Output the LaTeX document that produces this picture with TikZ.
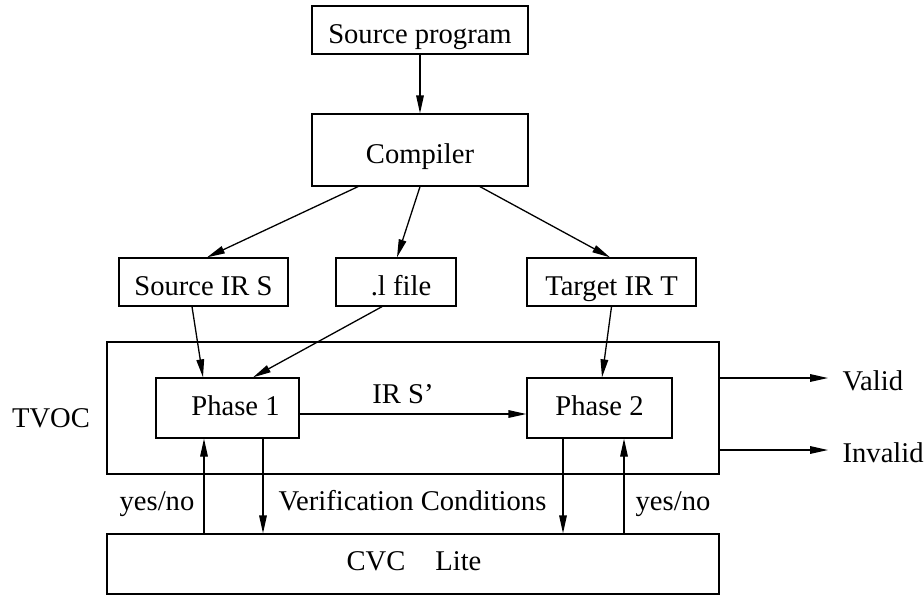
\documentclass[tikz,border=0pt]{standalone}
\usepackage{fontspec}
\setmainfont{Liberation Serif}
\usetikzlibrary{arrows.meta}
\begin{document}
\begin{tikzpicture}[x=0.5pt,y=-0.5pt, line width=0.65pt,
  box/.style={draw, inner sep=0pt, text height=13pt, text depth=0pt, font=\fontsize{14.3}{17}\selectfont},
  phasebox/.style={box, text height=7pt},
  txt/.style={inner sep=0pt, font=\fontsize{14.3}{17}\selectfont},
  arr/.style={-{Triangle[length=9pt,width=3.8pt]}}]
\useasboundingbox (0,0) rectangle (924,594);
% boxes
\node[box, minimum width=108pt, minimum height=24pt] (src) at (420,30) {Source program};
\node[box, minimum width=108pt, minimum height=36pt] (comp) at (420,150) {Compiler};
\node[box, minimum width=84.5pt, minimum height=24pt] (sir) at (203.5,282) {Source IR S};
\node[box, minimum width=60pt, minimum height=24pt] (lfile) at (396,282) {\hspace*{5pt}.l file};
\node[box, minimum width=84.5pt, minimum height=24pt] (tir) at (611.5,282) {Target IR T};
\node[box, minimum width=306pt, minimum height=66pt] (tvoc) at (413,408) {};
\node[phasebox, minimum width=71.5pt, minimum height=30pt] (p1) at (227.5,408) {\hspace*{8pt}Phase 1};
\node[phasebox, minimum width=72.5pt, minimum height=30pt] (p2) at (599.5,408) {Phase 2};
\node[box, minimum width=306pt, minimum height=30pt] (cvc) at (413,564) {};
% texts
\node[txt, anchor=base] (tvoclbl) at (51,427) {TVOC};
\node[txt, anchor=base] (irs) at (403,403) {IR S’};
\node[txt, anchor=base] (vc) at (412.5,510) {Verification Conditions};
\node[txt, anchor=base] (yn1) at (157,510) {yes/no};
\node[txt, anchor=base] (yn2) at (673,510) {yes/no};
\node[txt, anchor=base] (cvclbl) at (414,570) {CVC\hspace{15pt}Lite};
\node[txt, anchor=base west] (valid) at (842,390) {Valid};
\node[txt, anchor=base west] (invalid) at (842,462) {Invalid};
% connectors
\draw[arr] (src.south) -- (comp.north);
\draw[arr] ([xshift=-31pt]comp.south) -- ([xshift=1.75pt]sir.north);
\draw[arr] (comp.south) -- ([xshift=0.5pt]lfile.north);
\draw[arr] ([xshift=30pt]comp.south) -- ([xshift=-0.75pt]tir.north);
\draw[arr] ([xshift=-5.75pt]sir.south) -- ([xshift=-12.25pt]p1.north);
\draw[arr] ([xshift=-7pt]lfile.south) -- ([xshift=12.75pt]p1.north);
\draw[arr] (tir.south) -- ([xshift=1.25pt]p2.north);
\draw[arr] ([yshift=-3pt]p1.east) -- ([yshift=-3pt]p2.west);
\coordinate (d1) at ([xshift=17.75pt]p1.south);
\coordinate (u1) at ([xshift=-11.75pt]p1.south);
\coordinate (d2) at ([xshift=-18.25pt]p2.south);
\coordinate (u2) at ([xshift=12.25pt]p2.south);
\draw[arr] (d1) -- (d1 |- cvc.north);
\draw[arr] (u1 |- cvc.north) -- (u1);
\draw[arr] (d2) -- (d2 |- cvc.north);
\draw[arr] (u2 |- cvc.north) -- (u2);
\coordinate (ve) at (828,378);
\coordinate (ie) at (828,450);
\draw[arr] (tvoc.east |- ve) -- (ve);
\draw[arr] (tvoc.east |- ie) -- (ie);
\end{tikzpicture}
\end{document}
